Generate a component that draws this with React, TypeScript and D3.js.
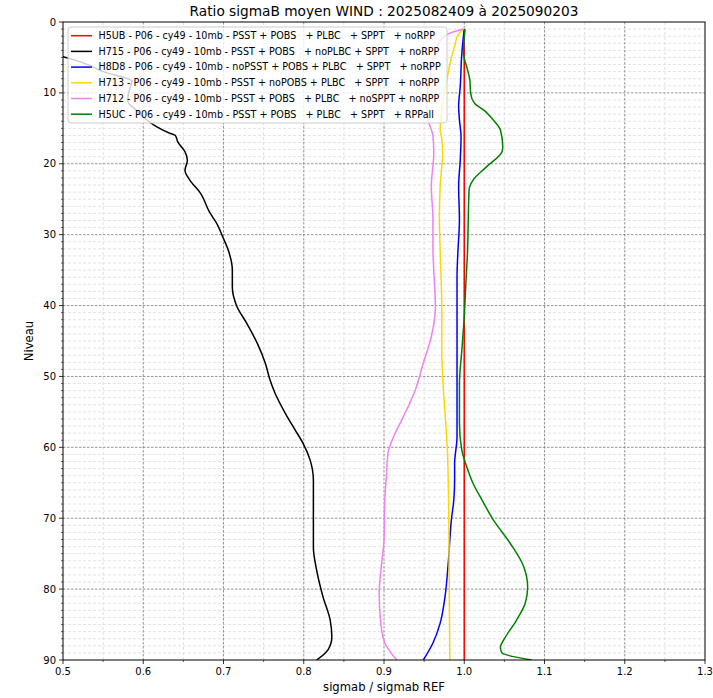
import React from "react";
import * as d3 from "d3";

const TITLE = "Ratio sigmaB moyen WIND : 2025082409 à 2025090203";
const X_LABEL = "sigmab / sigmab REF";
const Y_LABEL = "Niveau";
const X_TICKS = [0.5, 0.6, 0.7, 0.8, 0.9, 1.0, 1.1, 1.2, 1.3];
const Y_TICKS = [0, 10, 20, 30, 40, 50, 60, 70, 80, 90];

const SERIES_NAMES = [
  "H5UB - P06 - cy49 - 10mb - PSST + POBS   + PLBC   + SPPT   + noRPP",
  "H715 - P06 - cy49 - 10mb - PSST + POBS   + noPLBC + SPPT   + noRPP",
  "H8D8 - P06 - cy49 - 10mb - noPSST + POBS + PLBC   + SPPT   + noRPP",
  "H713 - P06 - cy49 - 10mb - PSST + noPOBS + PLBC   + SPPT   + noRPP",
  "H712 - P06 - cy49 - 10mb - PSST + POBS   + PLBC   + noSPPT + noRPP",
  "H5UC - P06 - cy49 - 10mb - PSST + POBS   + PLBC   + SPPT   + RPPall",
];
const SERIES_COLORS = ["#ff0000", "#000000", "#0000ff", "#ffd700", "#ee82ee", "#008000"];

// [level, ratio]
const H5UB: [number, number][] = [[1, 1.0], [90, 1.0]];
const H715: [number, number][] = [
  [1, 0.30], [2, 0.36], [3, 0.42], [4, 0.47], [4.9, 0.5], [5.2, 0.51], [6.3, 0.537], [7.0, 0.55],
  [7.9, 0.578], [8.3, 0.586], [9.5, 0.583], [10.6, 0.581], [11.3, 0.581], [12.3, 0.59], [13.4, 0.6],
  [14.8, 0.617], [15.7, 0.633], [16.0, 0.64], [16.9, 0.643], [18.3, 0.652], [19.5, 0.655], [20.9, 0.652],
  [22.3, 0.658], [24.1, 0.671], [26.9, 0.683], [28.5, 0.692], [30.3, 0.699], [32.2, 0.706], [35.0, 0.711],
  [37.4, 0.711], [40.2, 0.717], [42.5, 0.729], [45.3, 0.742], [48.1, 0.752], [50.5, 0.758], [52.3, 0.764],
  [55.2, 0.777], [57.5, 0.789], [59.4, 0.799], [61.8, 0.808], [64.6, 0.812], [69.3, 0.812], [74.1, 0.812],
  [77.3, 0.816], [81.1, 0.824], [84.4, 0.833], [86.8, 0.835], [88.6, 0.83], [90, 0.816],
];
const H8D8: [number, number][] = [
  [1, 1.0], [2, 0.999], [4.4, 0.997], [9.1, 0.995], [11.9, 0.993], [13.8, 0.994], [16.2, 0.996],
  [19.5, 0.995], [23.2, 0.993], [27.9, 0.994], [32.6, 0.992], [35.9, 0.991], [40.2, 0.991], [46.3, 0.991],
  [53.3, 0.991], [58.5, 0.991], [62.3, 0.988], [64.6, 0.988], [67.4, 0.987], [70.2, 0.984], [76.4, 0.98],
  [81.1, 0.976], [84.8, 0.97], [87.6, 0.961], [90, 0.949],
];
const H713: [number, number][] = [
  [1, 0.999], [2.1, 0.991], [3.0, 0.989], [5, 0.984], [7.7, 0.979], [10.1, 0.975], [12.4, 0.972],
  [15.2, 0.97], [16.5, 0.972], [18.5, 0.973], [23.2, 0.97], [27.9, 0.969], [32.2, 0.97], [40.2, 0.972],
  [46.3, 0.972], [51.9, 0.974], [56.6, 0.977], [60.4, 0.979], [64.6, 0.98], [74, 0.981], [90, 0.982],
];
const H712: [number, number][] = [
  [1, 0.999], [1.8, 0.978], [3.5, 0.966], [7.2, 0.958], [11.0, 0.953], [13.8, 0.955], [15.2, 0.959],
  [16, 0.961], [18.5, 0.962], [23.2, 0.959], [27.9, 0.961], [32.2, 0.961], [35, 0.962], [40.2, 0.964],
  [44.4, 0.959], [48.1, 0.949], [51.9, 0.939], [55.7, 0.924], [58.5, 0.912], [60.8, 0.905], [64.1, 0.903],
  [67.4, 0.901], [73.1, 0.9], [76.4, 0.897], [80.6, 0.894], [84.8, 0.896], [87.6, 0.901], [90, 0.916],
];
const H5UC: [number, number][] = [
  [1, 1.001], [4.4, 0.999], [6.3, 1.003], [8.2, 1.007], [10.1, 1.008], [11.5, 1.013], [12.4, 1.024],
  [13.8, 1.036], [15.2, 1.045], [17.6, 1.048], [18.3, 1.047], [20.4, 1.028], [22.3, 1.011], [23.7, 1.006],
  [27.9, 1.005], [32.6, 1.004], [36.9, 1.002], [41.6, 1.0], [46.3, 0.997], [51.0, 0.994], [56.6, 0.994],
  [60.4, 0.997], [62.7, 1.003], [65.1, 1.011], [67.4, 1.022], [70.2, 1.036], [73.5, 1.057], [76.8, 1.074],
  [79.7, 1.079], [82.0, 1.076], [84.4, 1.065], [87.2, 1.049], [88.2, 1.045], [89.0, 1.047], [90, 1.084],
];
const SERIES_DATA = [H5UB, H715, H8D8, H713, H712, H5UC];

const W = 713;
const H = 698;
const L = 63, R = 705, T = 22, B = 660;
const FONT = "DejaVu Sans, sans-serif";

export default function App() {
  const x = d3.scaleLinear().domain([0.5, 1.3]).range([L, R]);
  const y = d3.scaleLinear().domain([0, 90]).range([T, B]);
  const line = d3
    .line<[number, number]>()
    .x((d) => x(d[1]))
    .y((d) => y(d[0]))
    .curve(d3.curveMonotoneY);

  const xMinor = d3.range(0.55, 1.3, 0.1);
  const yMinor = d3.range(1, 90).filter((v) => v % 10 !== 0);
  const xMajorGrid = X_TICKS.slice(1, -1);
  const yMajorGrid = Y_TICKS.slice(1, -1);

  const legX = 68, legY = 27, legW = 379, legH = 96;
  const rowH = 15.7;

  return (
    <svg width={W} height={H} style={{ position: "absolute", left: 0, top: 0, background: "#fff" }} fontFamily={FONT}>
      <rect x={0} y={0} width={W} height={H} fill="#fff" />
      <defs>
        <clipPath id="plot">
          <rect x={L} y={T} width={R - L} height={B - T} />
        </clipPath>
      </defs>
      {/* minor grid */}
      {xMinor.map((v) => (
        <line key={"xm" + v} x1={x(v)} x2={x(v)} y1={T} y2={B} stroke="#d8d8d8" strokeWidth={0.8} strokeDasharray="3,2" />
      ))}
      {yMinor.map((v) => (
        <line key={"ym" + v} x1={L} x2={R} y1={y(v)} y2={y(v)} stroke="#dcdcdc" strokeWidth={0.8} strokeDasharray="3,2" />
      ))}
      {/* major grid */}
      {xMajorGrid.map((v) => (
        <line key={"xg" + v} x1={x(v)} x2={x(v)} y1={T} y2={B} stroke="#7a7a7a" strokeWidth={0.8} strokeDasharray="2.5,1.5" />
      ))}
      {yMajorGrid.map((v) => (
        <line key={"yg" + v} x1={L} x2={R} y1={y(v)} y2={y(v)} stroke="#7a7a7a" strokeWidth={0.8} strokeDasharray="2.5,1.5" />
      ))}
      {/* series */}
      <g clipPath="url(#plot)">
        {SERIES_DATA.map((d, i) => (
          <path key={i} d={line(d) || ""} fill="none" stroke={SERIES_COLORS[i]} strokeWidth={1.5} strokeLinejoin="round" />
        ))}
      </g>
      {/* legend */}
      <rect x={legX} y={legY} width={legW} height={legH} rx={3} fill="#fff" fillOpacity={0.8} stroke="#cccccc" strokeWidth={1} />
      {SERIES_NAMES.map((n, i) => {
        const cy = legY + 8.7 + i * rowH;
        return (
          <g key={n}>
            <line x1={71} x2={92} y1={cy} y2={cy} stroke={SERIES_COLORS[i]} strokeWidth={1.5} />
            <text x={98.5} y={cy} dy="0.35em" fontSize={9.6} fill="#000" style={{ whiteSpace: "pre" }} xmlSpace="preserve">
              {n}
            </text>
          </g>
        );
      })}
      {/* spines */}
      <rect x={L} y={T} width={R - L} height={B - T} fill="none" stroke="#000" strokeWidth={1} />
      {/* x ticks */}
      {X_TICKS.map((v) => (
        <g key={"xt" + v}>
          <line x1={x(v)} x2={x(v)} y1={B} y2={B + 4} stroke="#000" strokeWidth={0.8} />
          <text x={x(v)} y={B + 7} dy="0.8em" textAnchor="middle" fontSize={10}>
            {v.toFixed(1)}
          </text>
        </g>
      ))}
      {xMinor.map((v) => (
        <line key={"xmt" + v} x1={x(v)} x2={x(v)} y1={B} y2={B + 2} stroke="#000" strokeWidth={0.6} />
      ))}
      {/* y ticks */}
      {Y_TICKS.map((v) => (
        <g key={"yt" + v}>
          <line x1={L - 4} x2={L} y1={y(v)} y2={y(v)} stroke="#000" strokeWidth={0.8} />
          <text x={L - 7} y={y(v)} dy="0.35em" textAnchor="end" fontSize={10}>
            {v}
          </text>
        </g>
      ))}
      {yMinor.map((v) => (
        <line key={"ymt" + v} x1={L - 2} x2={L} y1={y(v)} y2={y(v)} stroke="#000" strokeWidth={0.6} />
      ))}
      {/* labels */}
      <text x={(L + R) / 2} y={691} textAnchor="middle" fontSize={11.6}>
        {X_LABEL}
      </text>
      <text transform={`translate(33,${(T + B) / 2}) rotate(-90)`} textAnchor="middle" fontSize={11.6}>
        {Y_LABEL}
      </text>
      <text x={(L + R) / 2} y={16} textAnchor="middle" fontSize={13.7}>
        {TITLE}
      </text>
    </svg>
  );
}
